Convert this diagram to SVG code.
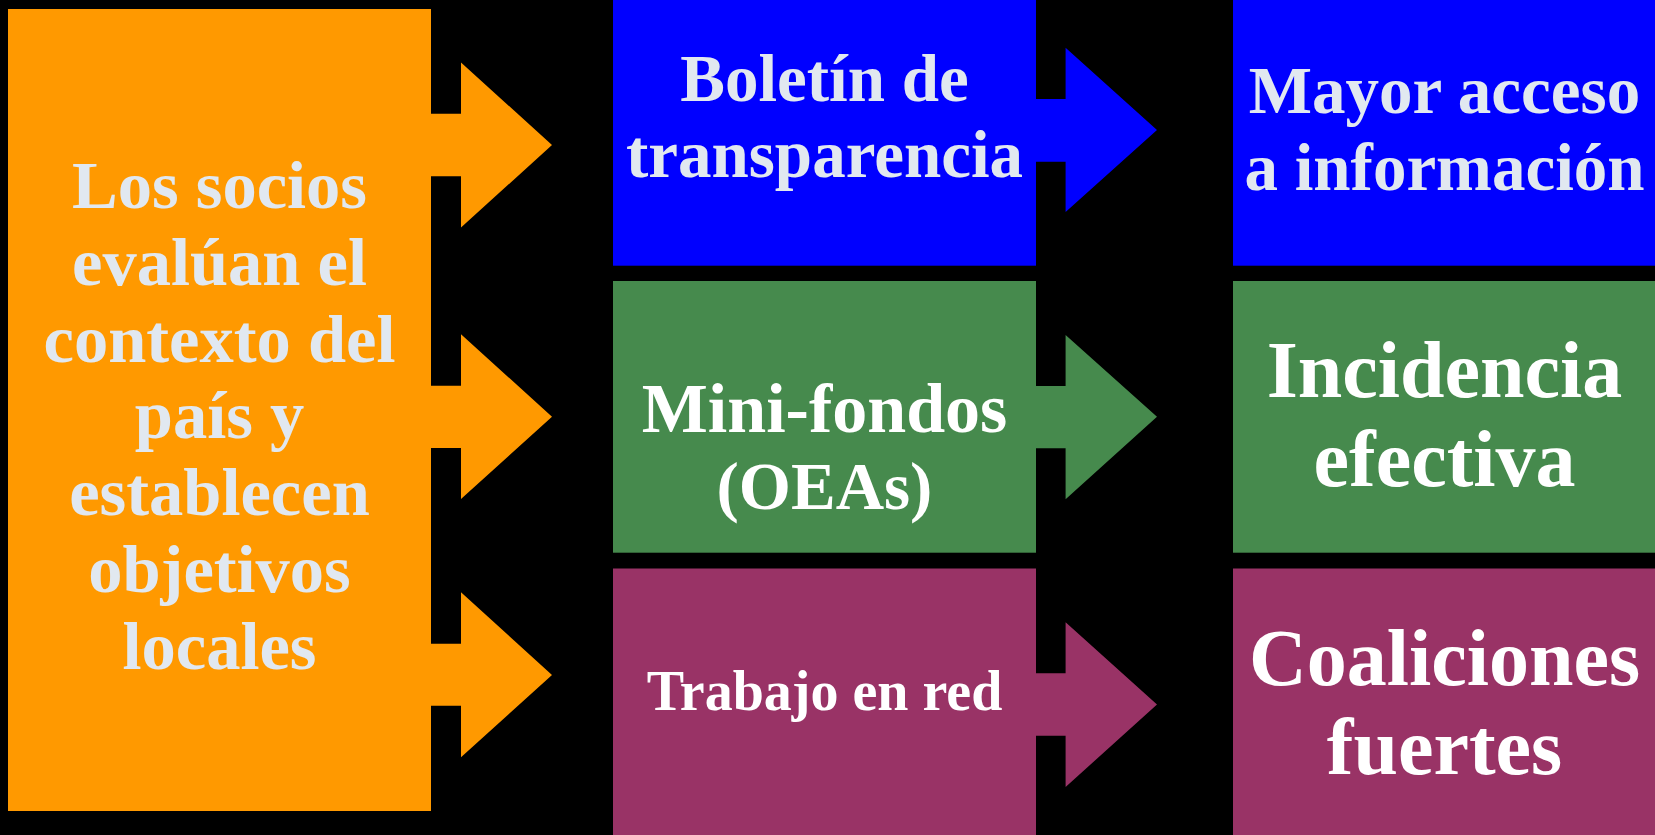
<svg xmlns="http://www.w3.org/2000/svg" width="1655" height="835" viewBox="0 0 1655 835">
  <style>
    .t { font-family: "Liberation Serif", "Times New Roman", serif; font-weight: bold; text-anchor: middle; }
    .light { fill: #E1E8F0; }
    .white { fill: #FFFFFF; }
    .n { font-size: 67px; }
    .o { font-size: 68.5px; }
    .mf { font-size: 70px; }
    .lg { font-size: 80px; }
    .sm { font-size: 56px; }
    .orange { fill: #FF9900; }
    .blue { fill: #0000FF; }
    .green { fill: #468A4D; }
    .purple { fill: #993366; }
  </style>
  <rect x="0" y="0" width="1655" height="835" fill="#000000"/>

  <g id="connectors">
    <path class="orange" d="M425,113.7 H461 V62.5 L552,145 L461,227.5 V176.3 H425 Z"/>
    <path class="orange" d="M425,385.7 H461 V334.3 L552,416.7 L461,499 V448 H425 Z"/>
    <path class="orange" d="M425,643.7 H461 V592.3 L552,675 L461,757.3 V705.7 H425 Z"/>
    <path class="blue" d="M1030,99 H1065.6 V47.7 L1157,130 L1065.6,212 V161.7 H1030 Z"/>
    <path class="green" d="M1030,386 H1065.6 V335 L1157,416.7 L1065.6,499.3 V448.3 H1030 Z"/>
    <path class="purple" d="M1030,673.3 H1065.6 V622.3 L1157,704.5 L1065.6,787 V735.7 H1030 Z"/>
  </g>

  <g id="node-contexto">
    <rect class="orange" x="8" y="9" width="423" height="802"/>
    <text class="t o light" x="219.5" y="208.3">Los socios</text>
    <text class="t o light" x="219.5" y="285">evalúan el</text>
    <text class="t o light" x="219.5" y="362">contexto del</text>
    <text class="t o light" x="219.5" y="438.3">país y</text>
    <text class="t o light" x="219.5" y="515.2">establecen</text>
    <text class="t o light" x="219.5" y="591.6">objetivos</text>
    <text class="t o light" x="219.5" y="668.5">locales</text>
  </g>

  <g id="node-boletin">
    <rect class="blue" x="613" y="0" width="423" height="265.7"/>
    <text class="t n light" x="824.5" y="100.7">Boletín de</text>
    <text class="t n light" x="824.5" y="176.7">transparencia</text>
  </g>

  <g id="node-minifondos">
    <rect class="green" x="613" y="281" width="423" height="271.7"/>
    <text class="t mf white" x="824.5" y="432.3">Mini-fondos</text>
    <text class="t n white" x="824.5" y="509">(OEAs)</text>
  </g>

  <g id="node-trabajo">
    <rect class="purple" x="613" y="568.5" width="423" height="266.5"/>
    <text class="t sm white" x="824.5" y="710">Trabajo en red</text>
  </g>

  <g id="node-acceso">
    <rect class="blue" x="1233" y="0" width="422" height="265.7"/>
    <text class="t n light" x="1444.5" y="113.3">Mayor acceso</text>
    <text class="t n light" x="1444.5" y="190">a información</text>
  </g>

  <g id="node-incidencia">
    <rect class="green" x="1233" y="281" width="422" height="271.7"/>
    <text class="t lg white" x="1444.5" y="396.7">Incidencia</text>
    <text class="t lg white" x="1444.5" y="486">efectiva</text>
  </g>

  <g id="node-coaliciones">
    <rect class="purple" x="1233" y="568.5" width="422" height="266.5"/>
    <text class="t lg white" x="1444.5" y="685">Coaliciones</text>
    <text class="t lg white" x="1444.5" y="774.3">fuertes</text>
  </g>
</svg>
